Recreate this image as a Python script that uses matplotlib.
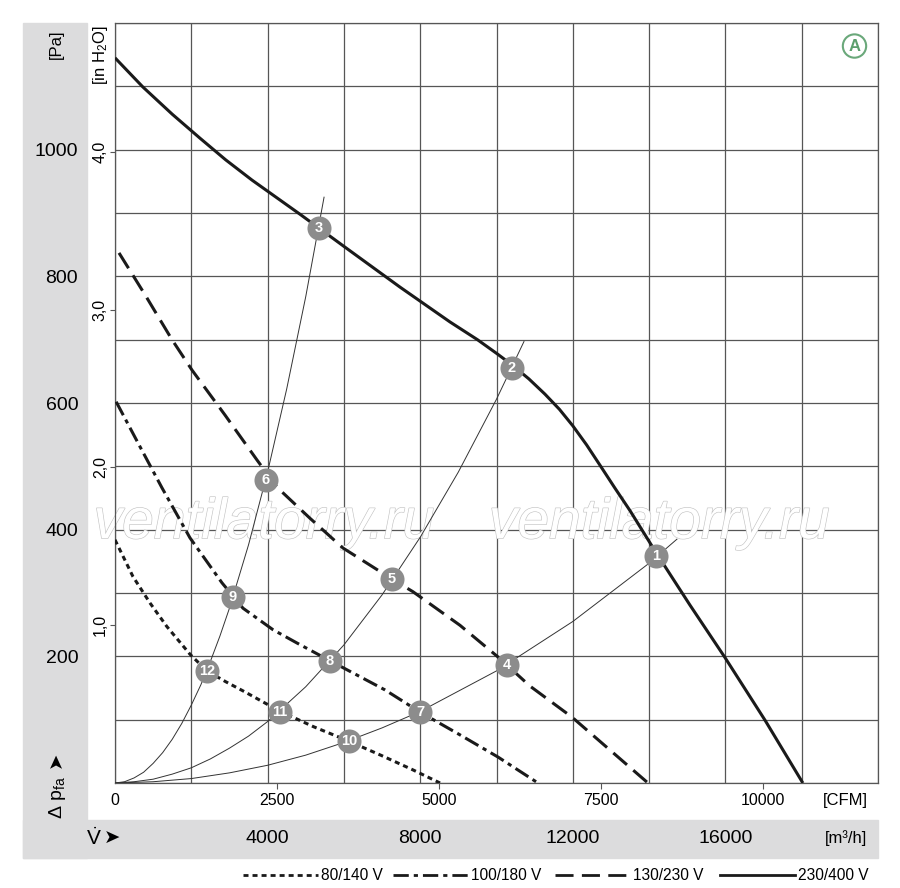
import matplotlib
matplotlib.use("Agg")
import matplotlib.pyplot as plt
from matplotlib.lines import Line2D
from matplotlib import patheffects

FONT = ["Liberation Sans", "DejaVu Sans"]
plt.rcParams["font.family"] = FONT
plt.rcParams["mathtext.fontset"] = "custom"
plt.rcParams["mathtext.rm"] = "Liberation Sans"
plt.rcParams["mathtext.it"] = "Liberation Sans:italic"
plt.rcParams["lines.scale_dashes"] = False

# fan curves: flow [m3/h], static pressure [Pa]
flow_80 = [0, 470, 920, 1360, 1970, 2410, 2900, 3400, 4300, 5200, 6130, 7000, 7800, 8520]
pa_80 = [384, 326, 284, 247, 203, 177, 160, 144, 114, 89, 66, 43, 21, 0]

flow_100 = [30, 629, 1232, 1966, 2805, 3355, 4142, 4771, 5636, 7077, 7995, 9043, 10039, 11088]
pa_100 = [602, 534, 466, 387, 316, 276, 242, 221, 193, 147, 112, 76, 41, 0]

flow_130 = [105, 786, 1494, 2018, 2883, 3722, 4246, 5111, 5976, 7261, 7811, 9043, 10039,
            10878, 11979, 12975, 13971]
pa_130 = [837, 771, 700, 652, 581, 510, 467, 418, 371, 322, 302, 249, 199, 153, 104, 52, 0]

flow_230 = [0, 730, 1500, 2230, 2900, 3590, 4850, 6030, 7470, 8780, 9500, 10010, 10410,
            10850, 11270, 11650, 12000, 12360, 12710, 13100, 13500, 14180, 15070, 15990,
            17040, 18030]
pa_230 = [1145, 1099, 1056, 1018, 984, 952, 898, 846, 783, 728, 700, 678, 660,
          638, 614, 590, 564, 534, 502, 466, 430, 364, 281, 198, 99, 0]

# system curves
sys_a_flow = [0, 250, 500, 750, 1000, 1250, 1500, 1750, 2000, 2250, 2500, 2750, 3000, 3500,
              4000, 4500, 5000, 5480]
sys_a_pa = [0, 2, 8, 17, 31, 48, 69, 94, 123, 155, 192, 232, 276, 376, 491, 622, 768, 925]
sys_b_flow = [0, 500, 1000, 1500, 2000, 2500, 3000, 3500, 4000, 5000, 6000, 7000, 8000,
              9000, 10000, 10720]
sys_b_pa = [0, 2, 6, 14, 24, 38, 55, 74, 97, 152, 218, 297, 388, 491, 606, 697]
sys_c_flow = [0, 1000, 2000, 3000, 4000, 5000, 6000, 7000, 8000, 10000, 12000, 14000, 14730]
sys_c_pa = [0, 2, 7, 16, 28, 44, 64, 87, 113, 177, 255, 347, 385]

# operating points
point_ids = [1, 2, 3, 4, 5, 6, 7, 8, 9, 10, 11, 12]
point_flow = [14181, 10406, 5347, 10275, 7261, 3958, 7995, 5636, 3093, 6134, 4325, 2412]
point_pa = [358, 655, 876, 186, 322, 478, 112, 193, 294, 66, 112, 177]

pa_labels = [200, 400, 600, 800, 1000]
inh2o_ticks = [1, 2, 3, 4]
m3h_labels = [4000, 8000, 12000, 16000]
cfm_ticks = [0, 2500, 5000, 7500, 10000]

legend_labels = ["80/140 V", "100/180 V", "130/230 V", "230/400 V"]

W, H = 900, 888
GRID = "#565656"
PANEL = "#dcdcdd"
ARROW = "➤"


def fx(px):
    return px / W


def fy(py):
    return 1 - py / H


fig = plt.figure(figsize=(9, 8.88), dpi=100)

# gray L-shaped panel
fig.add_artist(plt.Rectangle((fx(23), fy(858)), 64 / W, 835 / H, transform=fig.transFigure,
                             color=PANEL, zorder=0))
fig.add_artist(plt.Rectangle((fx(23), fy(858)), 855 / W, 38 / H, transform=fig.transFigure,
                             color=PANEL, zorder=0))

ax = fig.add_axes([fx(115), fy(783), 763 / W, 760 / H])
ax.set_xlim(0, 20000)
ax.set_ylim(0, 1200)

ax.set_xticks(range(0, 20001, 2000))
ax.set_xticklabels([str(v) if v in m3h_labels else "" for v in range(0, 20001, 2000)])
ax.set_yticks(range(0, 1201, 100))
ax.set_yticklabels([str(v) if v in pa_labels else "" for v in range(0, 1201, 100)])
ax.tick_params(axis="y", length=0, pad=26.5, labelsize=14)
ax.tick_params(axis="x", length=0, pad=34, labelsize=14)
for lbl in ax.get_xticklabels():
    lbl.set_va("top")
ax.grid(True, color=GRID, lw=0.9)
for sp in ax.spines.values():
    sp.set_color(GRID)
    sp.set_linewidth(0.9)

# in H2O axis
secy = ax.secondary_yaxis("left", functions=(lambda p: p / 249.09, lambda h: h * 249.09))
secy.set_yticks(inh2o_ticks)
secy.set_yticklabels([f"{v},0" for v in inh2o_ticks])
secy.tick_params(axis="y", length=3.6, width=0.8, color=GRID, pad=1.5, labelsize=11.5,
                 labelrotation=90)
for lbl in secy.get_yticklabels():
    lbl.set_va("center")
secy.spines["left"].set_visible(False)

# CFM axis
secx = ax.secondary_xaxis("bottom", functions=(lambda q: q / 1.699, lambda c: c * 1.699))
secx.set_xticks(cfm_ticks)
secx.set_xticklabels([str(v) for v in cfm_ticks])
secx.tick_params(axis="x", length=4.5, width=0.8, color=GRID, pad=3, labelsize=11.5)
secx.spines["bottom"].set_visible(False)
secx.xaxis.get_major_ticks()[0].tick1line.set_visible(False)

# watermark
for xa in [-0.028, 0.49]:
    ax.text(xa, 0.322, "ventilatorry.ru", transform=ax.transAxes, fontsize=41,
            family="Liberation Sans", style="italic", color="white", clip_on=False,
            zorder=2, path_effects=[patheffects.Stroke(linewidth=0.9, foreground="#c4c4c4"),
                                    patheffects.Normal()])

# system curves
for qx, py in [(sys_a_flow, sys_a_pa), (sys_b_flow, sys_b_pa), (sys_c_flow, sys_c_pa)]:
    ax.plot(qx, py, color="#333333", lw=0.7, zorder=3)

styles = [
    dict(dashes=(3.6, 2.9)),
    dict(dashes=(11, 3.6, 3, 3.6)),
    dict(dashes=(13, 6)),
    dict(linestyle="-"),
]
series = [(flow_80, pa_80), (flow_100, pa_100), (flow_130, pa_130), (flow_230, pa_230)]
for (qx, py), st in zip(series, styles):
    ax.plot(qx, py, color="#1a1a1a", lw=2.2, solid_capstyle="butt", dash_capstyle="butt",
            solid_joinstyle="round", zorder=4, **st)

ax.scatter(point_flow, point_pa, s=300, color="#8c8c8c", zorder=5, linewidths=0)
for n, qx, py in zip(point_ids, point_flow, point_pa):
    ax.text(qx, py, str(n), color="white", fontsize=10.5, fontweight="bold",
            ha="center", va="center", zorder=6)

ax.text(0.9692, 0.9697, "A", transform=ax.transAxes, fontsize=12, fontweight="bold",
        color="#5c9f6c", ha="center", va="center",
        bbox=dict(boxstyle="circle,pad=0.25", fc="white", ec="#6aa87a", lw=1.5))

# axis captions
fig.text(fx(56), fy(44), "[Pa]", rotation=90, ha="center", va="center", fontsize=12)
fig.text(fx(100), fy(55), "[in H$_2$O]", rotation=90, ha="center", va="center", fontsize=12)
fig.text(fx(57), fy(819), "Δ p$_{\\mathrm{fa}}$", rotation=90, ha="center", va="bottom",
         fontsize=14)
fig.text(fx(56), fy(760), ARROW, rotation=90, ha="center", va="center", fontsize=14,
         family="DejaVu Sans")
fig.text(fx(86), fy(838), "$\\dot{\\mathrm{V}}$", ha="left", va="center", fontsize=15)
fig.text(fx(104), fy(838), ARROW, ha="left", va="center", fontsize=14, family="DejaVu Sans")
fig.text(fx(868), fy(800), "[CFM]", ha="right", va="center", fontsize=12)
fig.text(fx(867), fy(838), "[m³/h]", ha="right", va="center", fontsize=12)

# legend
legend_x = [243, 393, 555, 720]
for x0, lab, st in zip(legend_x, legend_labels, styles):
    fig.add_artist(Line2D([fx(x0), fx(x0 + 75)], [fy(875), fy(875)], transform=fig.transFigure,
                          color="#1a1a1a", lw=2.0, dash_capstyle="butt", **st))
    fig.text(fx(x0 + 78), fy(875), lab, ha="left", va="center", fontsize=11.2)

fig.savefig("out.png", dpi=100)
